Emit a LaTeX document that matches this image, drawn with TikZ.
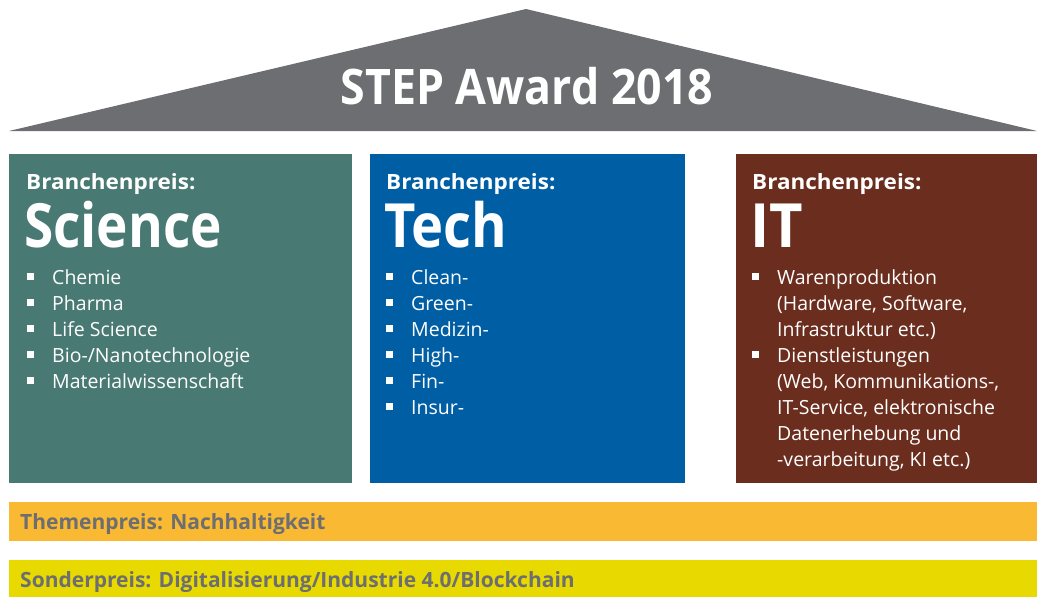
\documentclass[tikz,border=0pt]{standalone}
\usepackage{fontspec}
\setmainfont{Open Sans}
\definecolor{roofgray}{HTML}{6D6E71}
\definecolor{sci}{HTML}{487A73}
\definecolor{tech}{HTML}{005EA5}
\definecolor{itc}{HTML}{6B2E1E}
\definecolor{thema}{HTML}{F9B932}
\definecolor{sonder}{HTML}{E8DA00}
\newcommand\bsq{\makebox[25pt][l]{\rule[4pt]{7pt}{7pt}}}
\newcommand\cont{\par\hspace*{25pt}}
\newcommand\itemlist[2]{\parbox[t]{#1}{\fontsize{19.5}{26}\selectfont\raggedright #2}}
\begin{document}
\begin{tikzpicture}[x=1pt,y=-1pt,
  head/.style={anchor=base west, inner sep=0, text=white, font=\fontsize{21}{24}\selectfont\bfseries},
  big/.style={anchor=base west, inner sep=0, text=white, font=\fontsize{61}{62}\selectfont\bfseries},
  lst/.style={anchor=base west, inner sep=0, text=white},
  bartext/.style={anchor=base west, inner sep=0, text=roofgray, font=\fontsize{21}{24}\selectfont\bfseries}]
\useasboundingbox (0,0) rectangle (1037,597);
% roof
\fill[roofgray] (9,131) -- (526,9) -- (1037,131) -- cycle;
\node[anchor=base, inner sep=0, text=white, font=\fontsize{49}{50}\selectfont\bfseries] (title) at (527,104) {\scalebox{0.912}[1]{STEP Award 2018}};
% panels
\fill[sci] (9,154) rectangle (352,483);
\fill[tech] (370,154) rectangle (685,483);
\fill[itc] (736,154) rectangle (1037,483);
\node[head] (h1) at (26,189) {\scalebox{1.07}[1]{Branchenpreis:}};
\node[head] (h2) at (386,189) {\scalebox{1.07}[1]{Branchenpreis:}};
\node[head] (h3) at (752,189) {\scalebox{1.07}[1]{Branchenpreis:}};
\node[big] (b1) at (24,247) {\scalebox{0.87}[1]{Science}};
\node[big] (b2) at (384,247) {\scalebox{0.89}[1]{Tech}};
\node[big] (b3) at (750,247) {\scalebox{0.95}[1]{IT}};
\node[lst] (l1) at (27,284) {\itemlist{320pt}{\bsq Chemie\par\bsq Pharma\par\bsq Life Science\par\bsq Bio-/Nanotechnologie\par\bsq Materialwissenschaft}};
\node[lst] (l2) at (386,284) {\itemlist{290pt}{\bsq Clean-\par\bsq Green-\par\bsq Medizin-\par\bsq High-\par\bsq Fin-\par\bsq Insur-}};
\node[lst] (l3) at (752,284) {\itemlist{285pt}{\bsq Warenproduktion\cont(Hardware, Software,\cont Infrastruktur etc.)\par\bsq Dienstleistungen\cont(Web, Kommunikations-,\cont IT-Service, elektronische\cont Datenerhebung und\cont -verarbeitung, KI etc.)}};
% bars
\fill[thema] (9,502) rectangle (1037,541);
\fill[sonder] (9,560) rectangle (1037,597);
\node[bartext] (t1) at (20,529) {Themenpreis: Nachhaltigkeit};
\node[bartext] (t2) at (20,587) {Sonderpreis: Digitalisierung/Industrie 4.0/Blockchain};
\end{tikzpicture}
\end{document}
